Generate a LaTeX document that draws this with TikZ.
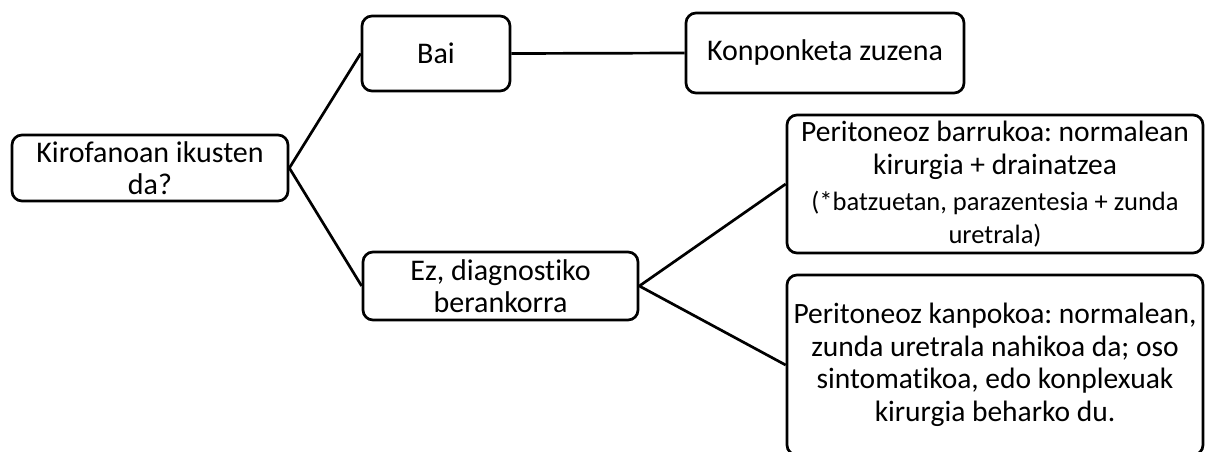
\documentclass[tikz,border=0pt]{standalone}
\usepackage{fontspec}
\setmainfont{Carlito}[Ligatures={NoCommon}]
\frenchspacing
\newcommand{\smalltxt}{\fontsize{26.5}{29}\selectfont}
\begin{document}
\begin{tikzpicture}[x=1pt,y=-1pt,
  box/.style={draw=black, line width=2.7pt, rounded corners=10pt, fill=white,
    inner sep=0pt, align=center, font=\fontsize{30}{32.5}\selectfont},
  wide/.style={font=\fontsize{29.5}{32.5}\selectfont},
  link/.style={line width=2.7pt, black}]
\useasboundingbox (0,0) rectangle (1205,452);
\clip (0,0) rectangle (1205,452);
\fill[white] (0,0) rectangle (1205,452);

% decision tree boxes
\node[box, minimum width=276pt, minimum height=66pt] (q) at (150,168)
  {Kirofanoan ikusten\\da?};
\node[box, minimum width=148pt, minimum height=75pt] (yes) at (436,53.5) {Bai};
\node[box, minimum width=278pt, minimum height=80pt] (fix) at (825,53)
  {Konponketa zuzena};
\node[box, minimum width=275pt, minimum height=68pt] (no) at (500.5,286)
  {Ez, diagnostiko\\berankorra};
\node[box, wide, minimum width=416pt, minimum height=138pt] (intra) at (995,184)
  {Peritoneoz barrukoa: normalean\\kirurgia + drainatzea\\[4pt]
   \smalltxt (*batzuetan, parazentesia + zunda\\\smalltxt uretrala)};
\node[box, wide, minimum width=416pt, minimum height=180pt] (extra) at (995,365)
  {Peritoneoz kanpokoa: normalean,\\zunda uretrala nahikoa da; oso\\
   sintomatikoa, edo konplexuak\\kirurgia beharko du.};

% connectors
\draw[link] (q.east) -- (yes.west);
\draw[link] (q.east) -- (no.west);
\draw[link] (yes.east) -- (fix.west);
\draw[link] (no.east) -- (intra.west);
\draw[link] (no.east) -- (extra.west);
\end{tikzpicture}
\end{document}
